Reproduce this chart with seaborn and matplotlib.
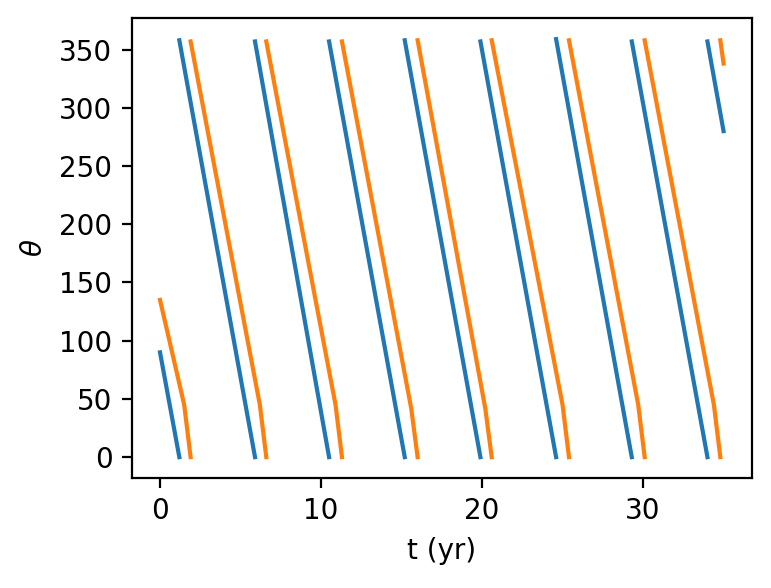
import numpy as np
import pandas as pd
import matplotlib
matplotlib.use('Agg')
import matplotlib.pyplot as plt
import seaborn as sb

# segment vertices (theta wraps 360 -> 0)
blue_t = [0, 1.2, 1.2, 5.9, 5.9, 10.5, 10.5, 15.2, 15.2, 19.9, 19.9, 24.6, 24.6, 29.3, 29.3, 34.0, 34.0, 35.0]
blue_th = [90, 0, 358, 0, 357, 0, 357, 0, 358, 0, 357, 0, 359, 0, 357, 0, 357, 280]
blue_seg = [0, 0, 1, 1, 2, 2, 3, 3, 4, 4, 5, 5, 6, 6, 7, 7, 8, 8]

orange_t = [0, 1.5, 1.9, 1.9, 6.2, 6.6, 6.6, 10.9, 11.3, 11.3, 15.6, 16.0, 16.0, 20.2, 20.6,
            20.6, 25.0, 25.4, 25.4, 29.7, 30.1, 30.1, 34.4, 34.8, 34.8, 35.0]
orange_th = [135, 45, 0, 357, 45, 0, 357, 45, 0, 357, 42, 0, 358, 42, 0,
             358, 45, 0, 358, 45, 0, 358, 45, 0, 358, 338]
orange_seg = [0, 0, 0, 1, 1, 1, 2, 2, 2, 3, 3, 3, 4, 4, 4,
              5, 5, 5, 6, 6, 6, 7, 7, 7, 8, 8]

df = pd.concat([
    pd.DataFrame({'t': blue_t, 'theta': blue_th, 'seg': blue_seg, 'body': 'a'}),
    pd.DataFrame({'t': orange_t, 'theta': orange_th, 'seg': orange_seg, 'body': 'b'}),
])
df['unit'] = df['body'] + df['seg'].astype(str)

fig, ax = plt.subplots(figsize=(771 / 200, 588 / 200), dpi=200)
sb.lineplot(data=df, x='t', y='theta', hue='body', units='unit', estimator=None,
            sort=False, palette=['#1f77b4', '#ff7f0e'], legend=False, ax=ax, lw=1.5)
ax.set_xlabel('t (yr)')
ax.set_ylabel(r'$\theta$')
ax.set_xticks([0, 10, 20, 30])
ax.set_yticks(np.arange(0, 351, 50))
fig.subplots_adjust(left=0.171, right=0.975, top=0.969, bottom=0.187)
fig.savefig('out.png', dpi=200)
